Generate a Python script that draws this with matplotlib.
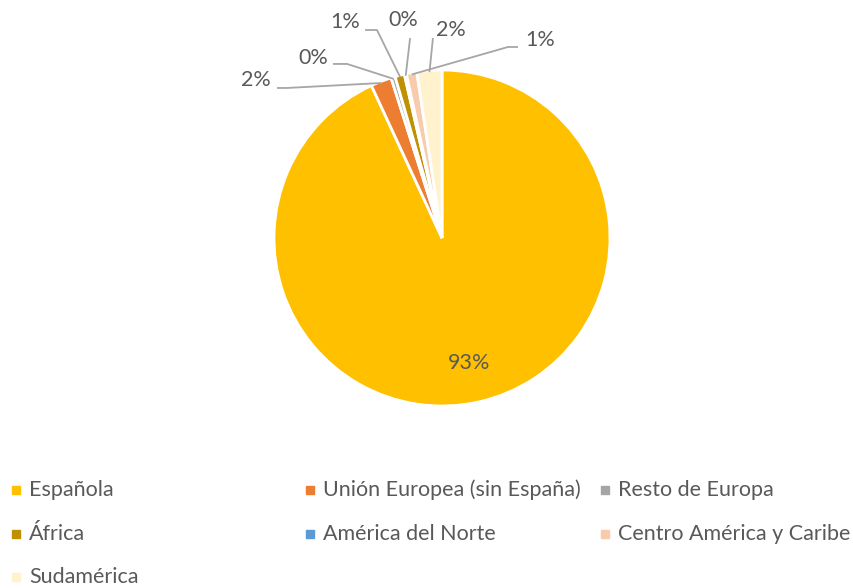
import matplotlib
matplotlib.use('Agg')
import matplotlib.pyplot as plt
from matplotlib.patches import Rectangle
import numpy as np

plt.rcParams['font.family'] = ['Lato', 'DejaVu Sans']

# datos
categorias = ['Española', 'Unión Europea (sin España)', 'Resto de Europa', 'África',
              'América del Norte', 'Centro América y Caribe', 'Sudamérica']
valores = [93.1, 2.0, 0.4, 0.9, 0.2, 1.0, 2.4]  # porcentaje aprox.
colores = ['#FFC000', '#ED7D31', '#A5A5A5', '#BF9000', '#5B9BD5', '#F8CBAD', '#FFF2CC']

# posiciones de etiquetas externas (texto, inicio linea, codo) en unidades del pie
etq_pos = {
    1: ((-1.107, 0.940), (-0.982, 0.893), (-0.923, 0.893)),
    2: ((-0.768, 1.071), (-0.649, 1.036), (-0.565, 1.036)),
    3: ((-0.577, 1.286), (-0.458, 1.238), (-0.387, 1.238)),
    4: ((-0.232, 1.298), (-0.190, 1.190), (-0.190, 1.190)),
    5: ((0.583, 1.179), (0.452, 1.137), (0.393, 1.137)),
    6: ((0.054, 1.238), (-0.054, 1.190), (-0.054, 1.190)),
}

W, H = 854, 588
fig = plt.figure(figsize=(W / 100, H / 100), dpi=100)
cx, cy, r = 442, 238, 168
x0, x1, y0, y1 = -1.5, 1.5, -1.1, 1.4
ax = fig.add_axes([(cx + x0 * r) / W, (H - cy + y0 * r) / H,
                   (x1 - x0) * r / W, (y1 - y0) * r / H])

wedges, _ = ax.pie(valores, colors=colores, startangle=90, counterclock=False,
                   radius=1, wedgeprops=dict(edgecolor='white', linewidth=2))
# pie cambia los limites, se fijan despues
ax.set_xlim(x0, x1)
ax.set_ylim(y0, y1)
ax.set_aspect('auto')
ax.axis('off')

txt_color = '#595959'
fs = 15.5
pct = [round(v / sum(valores) * 100) for v in valores]

# etiqueta interior
w = wedges[0]
ang = np.deg2rad((w.theta1 + w.theta2) / 2)
ax.text(0.76 * np.cos(ang), 0.76 * np.sin(ang), '%d%%' % pct[0], ha='center', va='center',
        fontsize=fs, color=txt_color)

# etiquetas exteriores con lineas guia
for i, (tpos, p0, p1) in etq_pos.items():
    w = wedges[i]
    ang = np.deg2rad((w.theta1 + w.theta2) / 2)
    pe = (0.99 * np.cos(ang), 0.99 * np.sin(ang))
    ax.plot([p0[0], p1[0], pe[0]], [p0[1], p1[1], pe[1]], color='#A6A6A6', lw=1.3,
            solid_capstyle='butt')
    ax.text(tpos[0], tpos[1], '%d%%' % pct[i], ha='center', va='center',
            fontsize=fs, color=txt_color)

# leyenda manual en 3 columnas
col_x = [12, 306, 601]
row_y = [490, 534, 577]
for i, (cat, col) in enumerate(zip(categorias, colores)):
    xp = col_x[i % 3]
    yp = row_y[i // 3]
    fig.add_artist(Rectangle((xp / W, (H - yp - 4) / H), 8 / W, 8 / H, color=col,
                             transform=fig.transFigure))
    fig.text((xp + 17) / W, (H - yp) / H, cat, ha='left', va='center', fontsize=fs,
             color=txt_color)

fig.savefig('out.png', dpi=100)
